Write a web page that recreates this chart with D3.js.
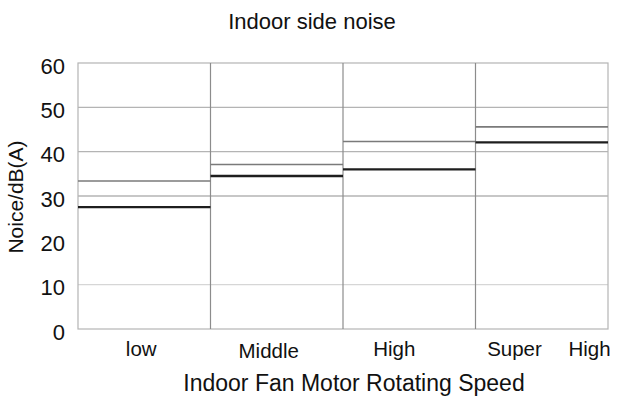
<!DOCTYPE html>
<html><head><meta charset="utf-8">
<script src="https://cdn.jsdelivr.net/npm/d3@7"></script>
<style>body{margin:0;background:#fff}svg{display:block;font-family:"Liberation Sans",Arial,sans-serif}</style>
</head><body><svg id="c" width="617" height="403"></svg>
<script>
const categories = ["low","Middle","High","Super High"];
const upperValues = [33.4, 37.1, 42.3, 45.6];
const lowerValues = [27.5, 34.5, 36.0, 42.1];
const yTicks = [0,10,20,30,40,50,60];
const gridValues = [10,30,40,50];

const svg = d3.select("#c");
const m = {l:78, r:608, t:63, b:329};
const x = d3.scaleBand().domain(categories).range([m.l, m.r]).padding(0);
const y = d3.scaleLinear().domain([0,60]).range([m.b, m.t]);

// gridlines
svg.append("g").selectAll("line").data(gridValues).join("line")
  .attr("x1", m.l).attr("x2", m.r)
  .attr("y1", d=>y(d)).attr("y2", d=>y(d))
  .attr("stroke", d=> d===10 ? "#d6d6d6" : "#b4b4b4").attr("stroke-width", 1.3);

// frame
svg.append("rect").attr("x", m.l).attr("y", m.t).attr("width", m.r-m.l).attr("height", m.b-m.t)
  .attr("fill","none").attr("stroke","#b4b4b4").attr("stroke-width",1.2);

// category separators
svg.append("g").selectAll("line").data(categories.slice(1)).join("line")
  .attr("x1", d=>x(d)).attr("x2", d=>x(d)).attr("y1", m.t).attr("y2", m.b)
  .attr("stroke","#8c8c8c").attr("stroke-width",1.2);

// upper (gray) lines
svg.append("g").selectAll("line").data(categories).join("line")
  .attr("x1", d=>x(d)).attr("x2", d=>x(d)+x.bandwidth())
  .attr("y1", (d,i)=>y(upperValues[i])).attr("y2", (d,i)=>y(upperValues[i]))
  .attr("stroke","#7a7a7a").attr("stroke-width",1.6);

// lower (dark) lines
svg.append("g").selectAll("line").data(categories).join("line")
  .attr("x1", d=>x(d)).attr("x2", d=>x(d)+x.bandwidth())
  .attr("y1", (d,i)=>y(lowerValues[i])).attr("y2", (d,i)=>y(lowerValues[i]))
  .attr("stroke","#1e1e1e").attr("stroke-width",2.4);

// y axis
const ya = svg.append("g").attr("transform",`translate(${m.l},3)`)
  .call(d3.axisLeft(y).tickValues(yTicks).tickSize(0).tickPadding(13));
ya.select(".domain").remove();
ya.selectAll("text").attr("font-size",22).attr("fill","#111").attr("font-family","Liberation Sans, Arial, sans-serif");

// x axis labels
const xa = svg.append("g").attr("transform",`translate(0,${m.b})`)
  .call(d3.axisBottom(x).tickSize(0).tickFormat(""));
xa.select(".domain").remove();
const labelPos = [
  {t:"low", cx:x("low")+x.bandwidth()/2 - 3, dy:26.5},
  {t:"Middle", cx:x("Middle")+x.bandwidth()/2 - 8, dy:29},
  {t:"High", cx:x("High")+x.bandwidth()/2 - 15, dy:26.5},
  {t:"Super", cx:x("Super High")+39, dy:26.5},
  {t:"High", cx:x("Super High")+114, dy:26.5}
];
svg.append("g").selectAll("text").data(labelPos).join("text")
  .attr("x", d=>d.cx).attr("y", d=>m.b+d.dy).attr("text-anchor","middle")
  .attr("font-size",20.5).attr("fill","#111").text(d=>d.t);

// titles
svg.append("text").attr("x",312).attr("y",29).attr("text-anchor","middle")
  .attr("font-size",22).attr("fill","#111").text("Indoor side noise");
svg.append("text").attr("x",354).attr("y",391).attr("text-anchor","middle")
  .attr("font-size",23).attr("fill","#111").text("Indoor Fan Motor Rotating Speed");
svg.append("text").attr("transform","translate(23,197) rotate(-90)").attr("text-anchor","middle")
  .attr("font-size",21).attr("fill","#111").text("Noice/dB(A)");
</script></body></html>
